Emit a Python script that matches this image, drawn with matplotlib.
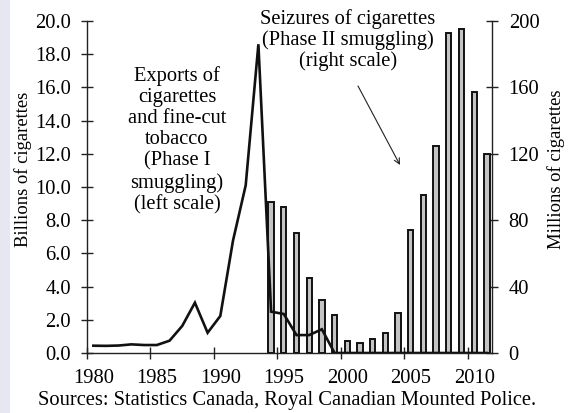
import matplotlib
matplotlib.use("Agg")
import matplotlib.pyplot as plt
from matplotlib.patches import Rectangle

plt.rcParams['font.family'] = ['Liberation Serif', 'DejaVu Serif']
FS = 14.8

# Exports (billions, left scale)
line_years = list(range(1980, 2012))
exports = [0.44, 0.43, 0.45, 0.52, 0.48, 0.48, 0.74, 1.63, 3.03, 1.22,
           2.23, 6.77, 10.1, 18.6, 2.49, 2.35, 1.08, 1.08, 1.43, 0.0,
           0.0, 0.0, 0.0, 0.0, 0.0, 0.0, 0.0, 0.0, 0.0, 0.0, 0.0, 0.0]

# Seizures (millions, right scale)
bar_years = list(range(1994, 2012))
seizures = [91, 88, 72, 45, 32, 23, 7.2, 5.8, 8.2, 11.8, 24, 74, 95, 125,
            193, 195, 157, 120]

left_ticks = [0, 2, 4, 6, 8, 10, 12, 14, 16, 18, 20]
right_ticks = [0, 40, 80, 120, 160, 200]
x_ticks = [1980, 1985, 1990, 1995, 2000, 2005, 2010]

W, H = 568, 413
fig = plt.figure(figsize=(W / 100, H / 100), dpi=100)
fig.patches.append(Rectangle((0, 0), 10 / W, 1, transform=fig.transFigure,
                             facecolor='#e7e7f1', edgecolor='none', zorder=0))

ax1 = fig.add_axes([87 / W, 60 / H, (492 - 87) / W, (353 - 21) / H])
ax2 = ax1.twinx()
ax1.set_zorder(ax2.get_zorder() + 1)
ax1.patch.set_visible(False)

ax2.bar([y + 0.5 for y in bar_years], seizures, width=0.42, color='#c4c4c4',
        edgecolor='#111111', linewidth=1.4, zorder=2)
ax1.plot([y + 0.5 for y in line_years], exports, color='#111111', lw=1.9,
         solid_joinstyle='miter', zorder=3)

ax1.set_xlim(1980, 2011.9)
ax1.set_ylim(0, 20)
ax2.set_ylim(0, 200)
# tick marks at category boundaries, labels centred on categories
ax1.set_xticks(x_ticks)
ax1.set_xticklabels([""] * len(x_ticks))
ax1.set_xticks([x + 0.5 for x in x_ticks], minor=True)
ax1.set_xticklabels([str(x) for x in x_ticks], minor=True)
ax1.set_yticks(left_ticks)
ax1.set_yticklabels([f"{v:.1f}" for v in left_ticks])
ax2.set_yticks(right_ticks)
ax2.set_yticklabels([str(v) for v in right_ticks])

for ax in (ax1, ax2):
    ax.spines['top'].set_visible(False)
    for s in ('left', 'right', 'bottom'):
        ax.spines[s].set_linewidth(1.0)
        ax.spines[s].set_color('#222222')
    ax.tick_params(direction='inout', length=9, width=1.0, color='#222222',
                   labelsize=FS)
ax1.spines['right'].set_visible(False)
ax2.spines['left'].set_visible(False)
ax2.spines['bottom'].set_visible(False)
ax1.tick_params(axis='y', pad=7)
ax2.tick_params(axis='y', pad=7.5)
ax1.tick_params(axis='x', which='minor', length=0, pad=11.5, labelsize=FS)

fig.text(23 / W, 1 - 169 / H, "Billions of cigarettes", rotation=90,
         ha='center', va='center', fontsize=13.4)
fig.text(556 / W, 1 - 169 / H, "Millions of cigarettes", rotation=90,
         ha='center', va='center', fontsize=13.4)

fig.text(177 / W, 1 - 66 / H,
         "Exports of\ncigarettes\nand fine-cut\ntobacco\n(Phase I\nsmuggling)\n(left scale)",
         ha='center', va='top', fontsize=FS, linespacing=1.15)
fig.text(348 / W, 1 - 9 / H,
         "Seizures of cigarettes\n(Phase II smuggling)\n(right scale)",
         ha='center', va='top', fontsize=FS, linespacing=1.1)
ax1.annotate("", xy=(400 / W, 1 - 165 / H), xytext=(358 / W, 1 - 86 / H),
             xycoords='figure fraction', textcoords='figure fraction',
             arrowprops=dict(arrowstyle='->', color='#222222', lw=0.8,
                             shrinkA=0, shrinkB=0))

fig.text(287 / W, 13 / H,
         "Sources: Statistics Canada, Royal Canadian Mounted Police.",
         ha='center', va='center', fontsize=FS)

fig.savefig("out.png", dpi=100)
